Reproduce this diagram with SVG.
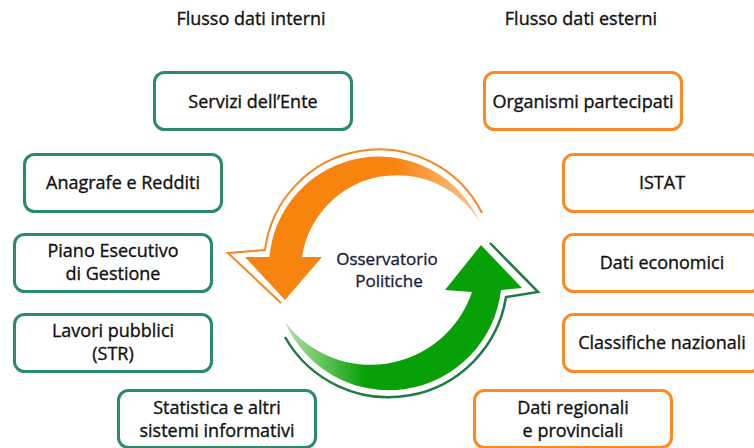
<svg xmlns="http://www.w3.org/2000/svg" width="754" height="448" viewBox="0 0 754 448">
<style>
  text { font-family: "Open Sans", "Noto Sans", "DejaVu Sans", sans-serif; font-size: 18px; fill: #111111; stroke: #111111; stroke-width: 0.35; text-anchor: middle; }
  .title { font-size: 18px; }
  .center { font-size: 17px; fill: #1b1b38; stroke: #1b1b38; }
  .g rect { fill: #ffffff; stroke: #2b8a68; stroke-width: 3; }
  .o rect { fill: #ffffff; stroke: #fb8a22; stroke-width: 3; }
</style>
<defs>
  <linearGradient id="orgGrad" gradientUnits="userSpaceOnUse" x1="395" y1="0" x2="482" y2="0">
    <stop offset="0" stop-color="#f7840f"/>
    <stop offset="1" stop-color="#fdc894"/>
  </linearGradient>
  <linearGradient id="grnGrad" gradientUnits="userSpaceOnUse" x1="285" y1="0" x2="365" y2="0">
    <stop offset="0" stop-color="#b4e2a8"/>
    <stop offset="1" stop-color="#07a007"/>
  </linearGradient>
</defs>
<rect width="754" height="448" fill="#ffffff"/>

<text class="title" x="251" y="25">Flusso dati interni</text>
<text class="title" x="581" y="25">Flusso dati esterni</text>

<g id="connectors">
  <path id="orange-arrow" d="M 480 223 A 110 110 0 0 0 269.4 257 L 245 257 L 285 300 L 322 257 L 302 257 A 96 96 0 0 1 480 223 Z" fill="url(#orgGrad)"/>
  <path id="orange-outline" d="M 482 213 A 115 115 0 0 0 265 250 L 228 253 L 281 303" fill="none" stroke="#f7861e" stroke-width="2"/>
  <path id="green-arrow" d="M 285 322 A 113 113 0 0 0 501 290 L 522 288 L 481 245 L 445 290 L 472 292 A 107 107 0 0 1 285 322 Z" fill="url(#grnGrad)"/>
  <path id="green-outline" d="M 285 337 A 119 119 0 0 0 506 297 L 538 292 L 490 243" fill="none" stroke="#1f7a45" stroke-width="2.5"/>
</g>

<g id="center-label">
  <text class="center" x="387" y="265">Osservatorio</text>
  <text class="center" x="389" y="287">Politiche</text>
</g>

<g id="servizi" class="g"><rect x="154.5" y="72.5" width="197" height="57" rx="10"/><text x="253" y="108">Servizi dell’Ente</text></g>
<g id="anagrafe" class="g"><rect x="24.5" y="154.5" width="197" height="57" rx="10"/><text x="123" y="189">Anagrafe e Redditi</text></g>
<g id="piano" class="g"><rect x="14.5" y="234.5" width="197" height="57" rx="10"/><text x="113" y="257">Piano Esecutivo</text><text x="113" y="280">di Gestione</text></g>
<g id="lavori" class="g"><rect x="14.5" y="314.5" width="197" height="57" rx="10"/><text x="113" y="337">Lavori pubblici</text><text x="113" y="360">(STR)</text></g>
<g id="statistica" class="g"><rect x="118.5" y="390.5" width="197" height="57" rx="10"/><text x="217" y="414">Statistica e altri</text><text x="217" y="437">sistemi informativi</text></g>

<g id="organismi" class="o"><rect x="484.5" y="72.5" width="197" height="57" rx="10"/><text x="583" y="108">Organismi partecipati</text></g>
<g id="istat" class="o"><rect x="563.5" y="154.5" width="197" height="57" rx="10"/><text x="662" y="189">ISTAT</text></g>
<g id="economici" class="o"><rect x="563.5" y="234.5" width="197" height="57" rx="10"/><text x="662" y="269">Dati economici</text></g>
<g id="classifiche" class="o"><rect x="563.5" y="314.5" width="197" height="57" rx="10"/><text x="662" y="349">Classifiche nazionali</text></g>
<g id="regionali" class="o"><rect x="474.5" y="390.5" width="197" height="57" rx="10"/><text x="573" y="414">Dati regionali</text><text x="573" y="437">e provinciali</text></g>
</svg>
